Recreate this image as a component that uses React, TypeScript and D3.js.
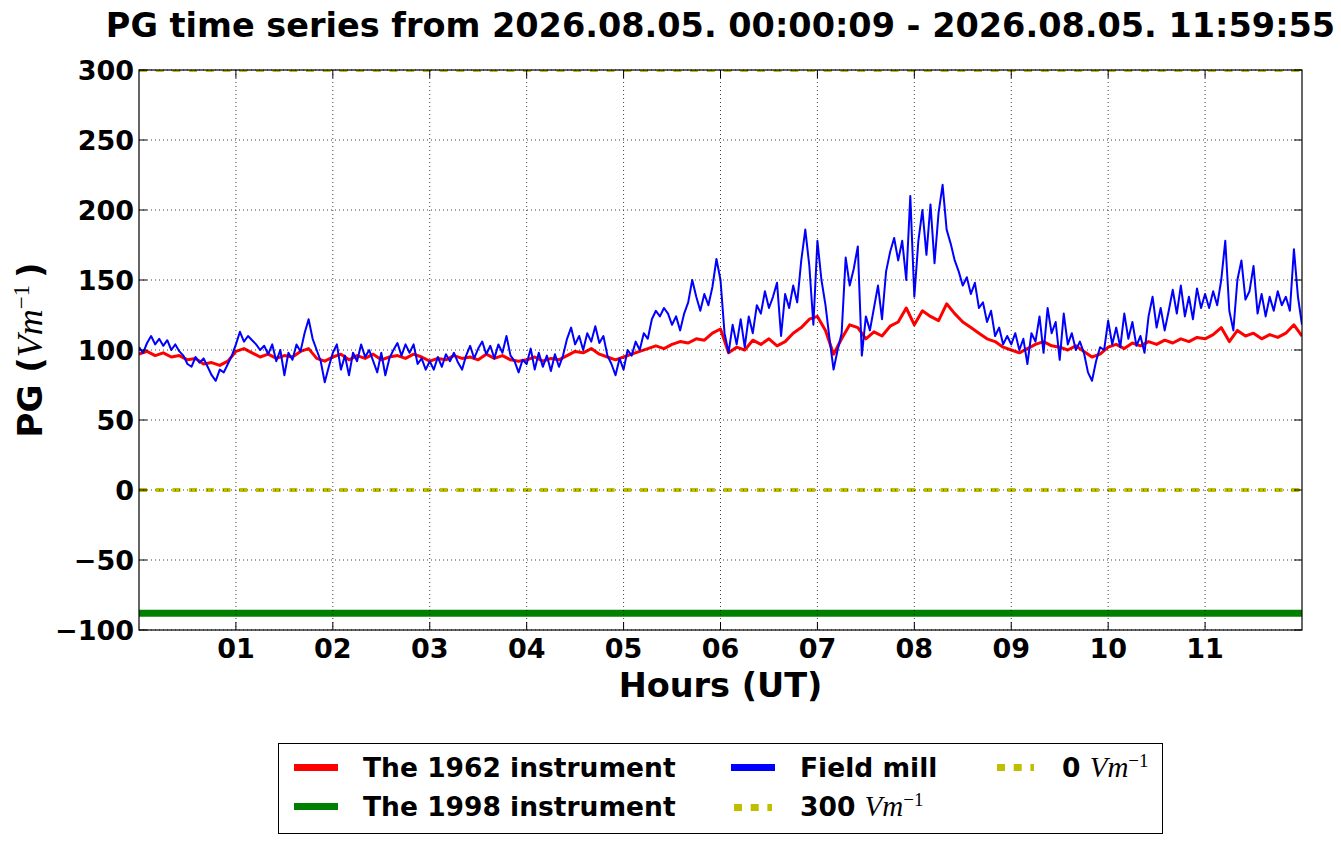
import React from 'react';
import * as d3 from 'd3';

// ---------- data ----------
const titleText = 'PG time series from 2026.08.05. 00:00:09 - 2026.08.05. 11:59:55';
const hourTicks = [1, 2, 3, 4, 5, 6, 7, 8, 9, 10, 11];
const pgTicks = [-100, -50, 0, 50, 100, 150, 200, 250, 300];

// Field mill, one value every 2.5 minutes (24 per hour), 00:00 .. 12:00
const fieldMill = [
  102, 98, 105, 110, 104, 108, 103, 107, 100, 104, 99, 96, 90, 88, 95, 91, 94, 88, 82, 78, 86, 84, 90, 96,
  104, 113, 106, 110, 107, 104, 100, 103, 97, 104, 92, 100, 82, 98, 93, 104, 99, 112, 122, 108, 100, 92, 77, 88,
  98, 104, 86, 96, 82, 98, 92, 104, 95, 100, 92, 84, 98, 82, 94, 100, 105, 96, 104, 98, 104, 90, 94, 86,
  92, 86, 95, 88, 97, 92, 98, 91, 86, 96, 103, 94, 101, 106, 97, 103, 94, 104, 98, 110, 96, 92, 84, 93,
  90, 101, 86, 98, 88, 96, 85, 97, 88, 96, 108, 116, 104, 110, 100, 112, 106, 117, 105, 110, 96, 90, 82, 94,
  86, 100, 96, 106, 100, 112, 108, 122, 128, 124, 130, 126, 118, 124, 114, 126, 134, 150, 138, 128, 140, 132, 145, 165,
  150, 112, 98, 118, 104, 122, 102, 124, 112, 132, 126, 142, 130, 138, 148, 110, 140, 130, 146, 134, 164, 186, 160, 118,
  178, 150, 132, 108, 86, 100, 112, 166, 146, 158, 174, 96, 124, 114, 130, 146, 122, 156, 170, 180, 164, 178, 150, 210,
  138, 178, 200, 168, 204, 162, 198, 218, 186, 176, 164, 156, 146, 152, 140, 148, 130, 134, 120, 128, 110, 116, 104, 110,
  104, 112, 100, 108, 90, 112, 106, 124, 98, 130, 112, 120, 93, 126, 104, 112, 100, 106, 98, 84, 78, 92, 102, 100,
  121, 104, 116, 102, 126, 108, 120, 103, 110, 98, 124, 138, 116, 130, 114, 128, 143, 126, 146, 124, 138, 122, 144, 130,
  140, 130, 142, 132, 150, 178, 128, 114, 150, 164, 136, 142, 160, 126, 140, 124, 138, 128, 142, 132, 138, 128, 172, 138,
  118,
];
const fieldMillPerHour = 24;

// The 1962 instrument, one value every 5 minutes (12 per hour)
const instrument1962 = [
  97, 99, 96, 98, 95, 96, 93, 94, 90, 91, 89, 92,
  99, 101, 98, 95, 97, 94, 96, 95, 99, 101, 94, 92,
  95, 97, 93, 96, 94, 97, 93, 95, 96, 94, 97, 95,
  92, 94, 93, 96, 94, 95, 93, 97, 94, 96, 93, 92,
  93, 95, 92, 94, 93, 96, 99, 98, 101, 97, 95, 93,
  95, 97, 99, 101, 103, 101, 104, 106, 105, 108, 107, 112,
  115, 98, 102, 100, 107, 104, 108, 103, 106, 112, 116, 122,
  124, 114, 97, 108, 118, 116, 108, 113, 110, 117, 120, 130,
  118, 128, 124, 121, 133, 126, 120, 116, 112, 108, 106, 102,
  100, 98, 101, 104, 106, 103, 102, 100, 103, 99, 95, 97,
  102, 104, 101, 105, 103, 106, 104, 107, 105, 108, 106, 109,
  108, 111, 116, 106, 114, 110, 112, 108, 111, 109, 112, 118,
  110,
];
const instrument1962PerHour = 12;

// The 1998 instrument: constant level
const instrument1998Level = -88;
const referenceLevels = [300, 0];

// ---------- drawing ----------
const W = 1341;
const H = 844;
const L = 139, R = 1302, T = 70, B = 630;
const SANS = '"DejaVu Sans", sans-serif';
const SERIF = '"Liberation Serif", "DejaVu Serif", serif';
const YELLOW = '#bfbf00';

const fmtPG = (v: number) => (v < 0 ? '\u2212' + Math.abs(v) : String(v));
const fmtHour = (h: number) => (h < 10 ? '0' + h : String(h));

export default function App() {
  const x = d3.scaleLinear().domain([0, 12]).range([L, R]);
  const y = d3.scaleLinear().domain([-100, 300]).range([B, T]);
  const line = d3
    .line<[number, number]>()
    .x((d) => x(d[0]))
    .y((d) => y(d[1]));

  const blue: [number, number][] = fieldMill.map((v, i) => [i / fieldMillPerHour, v]);
  const red: [number, number][] = instrument1962.map((v, i) => [i / instrument1962PerHour, v]);
  const green: [number, number][] = [
    [0, instrument1998Level],
    [12, instrument1998Level],
  ];

  const tickLen = 8;

  return (
    <div style={{ position: 'absolute', left: 0, top: 0 }}>
      <svg width={W} height={H} viewBox={`0 0 ${W} ${H}`} style={{ display: 'block', background: '#fff' }}>
        <defs>
          <clipPath id="plotClip">
            <rect x={L} y={T} width={R - L} height={B - T} />
          </clipPath>
        </defs>
        <rect x={0} y={0} width={W} height={H} fill="#fff" />

        {/* title */}
        <text x={(L + R) / 2} y={37} textAnchor="middle" fontFamily={SANS} fontWeight="bold" fontSize={33.5}>
          {titleText}
        </text>

        {/* series */}
        <g clipPath="url(#plotClip)">
          <path d={line(red) || ''} fill="none" stroke="#ff0000" strokeWidth={3} strokeLinejoin="round" />
          <path d={line(green) || ''} fill="none" stroke="#008000" strokeWidth={7} />
          <path d={line(blue) || ''} fill="none" stroke="#0000ff" strokeWidth={2} strokeLinejoin="round" />
          {referenceLevels.map((lv) => (
            <line
              key={lv}
              x1={x(0)}
              x2={x(12)}
              y1={y(lv)}
              y2={y(lv)}
              stroke={YELLOW}
              strokeWidth={4}
              strokeDasharray="8 8.7"
            />
          ))}
        </g>

        {/* grid */}
        <g stroke="#000" strokeWidth={1} strokeDasharray="1 3" opacity={0.75}>
          {hourTicks.map((h) => (
            <line key={'gx' + h} x1={x(h)} x2={x(h)} y1={T} y2={B} />
          ))}
          {pgTicks.map((v) => (
            <line key={'gy' + v} x1={L} x2={R} y1={y(v)} y2={y(v)} />
          ))}
        </g>

        {/* ticks */}
        <g stroke="#000" strokeWidth={1}>
          {hourTicks.map((h) => (
            <g key={'tx' + h}>
              <line x1={x(h)} x2={x(h)} y1={B} y2={B - tickLen} />
              <line x1={x(h)} x2={x(h)} y1={T} y2={T + tickLen} />
            </g>
          ))}
          {pgTicks.map((v) => (
            <g key={'ty' + v}>
              <line x1={L} x2={L + tickLen} y1={y(v)} y2={y(v)} />
              <line x1={R} x2={R - tickLen} y1={y(v)} y2={y(v)} />
            </g>
          ))}
        </g>

        {/* frame */}
        <rect x={L} y={T} width={R - L} height={B - T} fill="none" stroke="#000" strokeWidth={1.2} />

        {/* tick labels */}
        <g fontFamily={SANS} fontWeight="bold" fontSize={27}>
          {hourTicks.map((h) => (
            <text key={'lx' + h} x={x(h)} y={658} textAnchor="middle">
              {fmtHour(h)}
            </text>
          ))}
          {pgTicks.map((v) => (
            <text key={'ly' + v} x={134} y={y(v) + 10} textAnchor="end">
              {fmtPG(v)}
            </text>
          ))}
        </g>

        {/* axis labels */}
        <text x={(L + R) / 2} y={697} textAnchor="middle" fontFamily={SANS} fontWeight="bold" fontSize={33.5}>
          Hours (UT)
        </text>
        <text transform={`translate(42,${(T + B) / 2}) rotate(-90)`} textAnchor="middle" fontSize={34}>
          <tspan fontFamily={SANS} fontWeight="bold">PG (</tspan>
          <tspan fontFamily={SERIF} fontStyle="italic" fontSize={36}>Vm</tspan>
          <tspan fontFamily={SERIF} fontSize={23} dy={-13}>{'\u22121'}</tspan>
          <tspan fontFamily={SANS} fontWeight="bold" dy={13}>{'\u2009)'}</tspan>
        </text>

        {/* legend */}
        <g>
          <rect x={278.5} y={743.5} width={884} height={90} fill="#fff" stroke="#000" strokeWidth={1} />
          <line x1={294} x2={338} y1={767.5} y2={767.5} stroke="#ff0000" strokeWidth={7} />
          <line x1={294} x2={338} y1={806.5} y2={806.5} stroke="#008000" strokeWidth={7} />
          <line x1={731} x2={775} y1={767.5} y2={767.5} stroke="#0000ff" strokeWidth={7} />
          <line x1={734} x2={772} y1={807.5} y2={807.5} stroke={YELLOW} strokeWidth={7} strokeDasharray="8 8.7" />
          <line x1={997} x2={1034} y1={767.5} y2={767.5} stroke={YELLOW} strokeWidth={7} strokeDasharray="8 8.7" />
          <g fontFamily={SANS} fontWeight="bold" fontSize={26.5}>
            <text x={363} y={777}>The 1962 instrument</text>
            <text x={363} y={816}>The 1998 instrument</text>
            <text x={800} y={777}>Field mill</text>
            <text x={800} y={816}>
              <tspan>300 </tspan>
              <tspan fontFamily={SERIF} fontStyle="italic" fontWeight="normal" fontSize={29}>Vm</tspan>
              <tspan fontFamily={SERIF} fontWeight="normal" fontSize={19} dy={-10}>{'\u22121'}</tspan>
            </text>
            <text x={1062} y={777}>
              <tspan>0 </tspan>
              <tspan fontFamily={SERIF} fontStyle="italic" fontWeight="normal" fontSize={29}>Vm</tspan>
              <tspan fontFamily={SERIF} fontWeight="normal" fontSize={19} dy={-10}>{'\u22121'}</tspan>
            </text>
          </g>
        </g>
      </svg>
    </div>
  );
}
